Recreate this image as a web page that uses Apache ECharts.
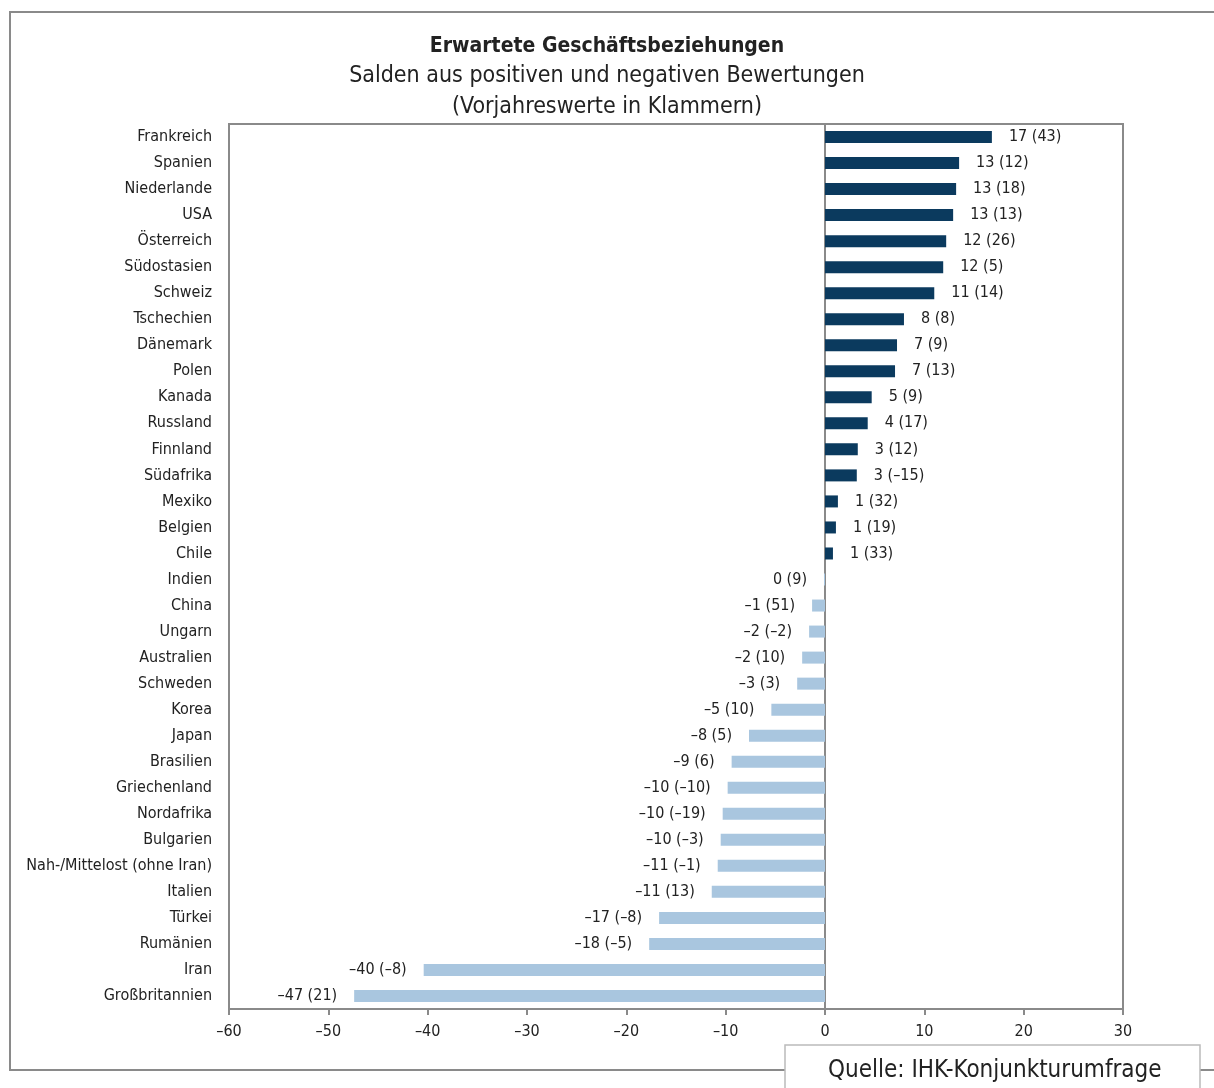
<!DOCTYPE html>
<html><head><meta charset="utf-8">
<script src="https://cdn.jsdelivr.net/npm/echarts@6/dist/echarts.min.js"></script>
<style>html,body{margin:0;padding:0;background:#fff}#c{width:1214px;height:1088px}</style>
</head><body><div id="c"></div>
<script>
const categories = ["Frankreich","Spanien","Niederlande","USA","Österreich","Südostasien","Schweiz","Tschechien","Dänemark","Polen","Kanada","Russland","Finnland","Südafrika","Mexiko","Belgien","Chile","Indien","China","Ungarn","Australien","Schweden","Korea","Japan","Brasilien","Griechenland","Nordafrika","Bulgarien","Nah-/Mittelost (ohne Iran)","Italien","Türkei","Rumänien","Iran","Großbritannien"];
const values = [16.8,13.5,13.2,12.9,12.2,11.9,11.0,7.95,7.25,7.05,4.7,4.3,3.3,3.2,1.3,1.1,0.8,-0.1,-1.3,-1.6,-2.3,-2.8,-5.4,-7.65,-9.4,-9.8,-10.3,-10.5,-10.8,-11.4,-16.7,-17.7,-40.4,-47.4];
const currentLabels = [17,13,13,13,12,12,11,8,7,7,5,4,3,3,1,1,1,0,-1,-2,-2,-3,-5,-8,-9,-10,-10,-10,-11,-11,-17,-18,-40,-47];
const previousLabels = [43,12,18,13,26,5,14,8,9,13,9,17,12,-15,32,19,33,9,51,-2,10,3,10,5,6,-10,-19,-3,-1,13,-8,-5,-8,21];
const xTicks = [-60,-50,-40,-30,-20,-10,0,10,20,30];

const FONT = "'Liberation Sans Narrow','DejaVu Sans Condensed','Roboto Condensed',sans-serif";
const fmt = n => String(n).replace('-', '–');
const DARK = '#0b3a5e', LIGHT = '#a9c6df';

const data = values.map((v, i) => ({
  value: v,
  itemStyle: { color: i < 17 ? DARK : LIGHT },
  label: {
    show: true,
    position: i < 17 ? 'right' : 'left',
    distance: 17,
    formatter: fmt(currentLabels[i]) + ' (' + fmt(previousLabels[i]) + ')'
  }
}));

const chart = echarts.init(document.getElementById('c'));
chart.setOption({
  animation: false,
  backgroundColor: '#fff',
  title: {
    text: 'Erwartete Geschäftsbeziehungen',
    subtext: 'Salden aus positiven und negativen Bewertungen\n(Vorjahreswerte in Klammern)',
    left: 'center', top: 31, itemGap: 4,
    textStyle: { fontFamily: FONT, fontSize: 21, fontWeight: 'bold', color: '#222' },
    subtextStyle: { fontFamily: FONT, fontSize: 23, color: '#222', lineHeight: 31 }
  },
  grid: { left: 229, right: 91, top: 124, bottom: 79, show: true, borderColor: '#8a8a8a', borderWidth: 2, containLabel: false },
  xAxis: {
    type: 'value', min: -60, max: 30, interval: 10,
    axisLine: { show: true, onZero: false, lineStyle: { color: '#8a8a8a', width: 2 } },
    axisTick: { show: true, length: 6, lineStyle: { color: '#8a8a8a', width: 2 } },
    splitLine: { show: false },
    axisLabel: { fontFamily: FONT, fontSize: 16, color: '#222', margin: 15,
      formatter: v => xTicks.includes(v) ? fmt(v) : '' }
  },
  yAxis: {
    type: 'category', data: categories, inverse: true,
    axisLine: { show: true, onZero: true, lineStyle: { color: '#8a8a8a', width: 2 } },
    axisTick: { show: false },
    axisLabel: { fontFamily: FONT, fontSize: 16, color: '#222', margin: 17 }
  },
  series: [{
    type: 'bar', data: data, barWidth: 12,
    label: { fontFamily: FONT, fontSize: 16, color: '#222' }
  }],
  graphic: [
    { type: 'polyline', shape: { points: [[1214, 12], [10, 12], [10, 1070], [785, 1070]] }, style: { stroke: '#8a8a8a', lineWidth: 2, fill: null } },
    { type: 'line', shape: { x1: 1200, y1: 1070, x2: 1214, y2: 1070 }, style: { stroke: '#8a8a8a', lineWidth: 2 } },
    { type: 'rect', shape: { x: 785, y: 1045, width: 415, height: 50 }, style: { stroke: '#bbbbbb', lineWidth: 1.5, fill: '#fff' } },
    { type: 'text', left: 828, top: 1059, style: { text: 'Quelle: IHK-Konjunkturumfrage', fontFamily: FONT, fontSize: 24, fill: '#222' } }
  ]
});
</script></body></html>
